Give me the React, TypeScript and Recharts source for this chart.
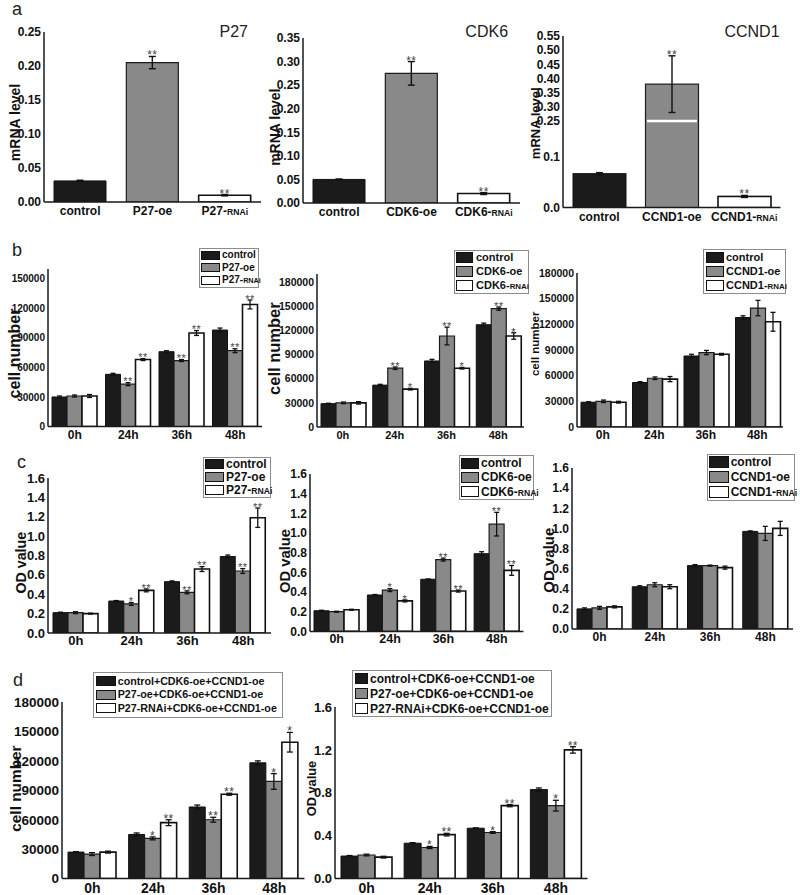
import React from 'react';
import { BarChart, Bar, XAxis, YAxis, ErrorBar, LabelList, Legend, Cell } from 'recharts';

// ---------- panel a: mRNA level ----------
const p27Groups = ['control', 'P27-oe', 'P27-RNAi'];
const p27Mrna = [0.031, 0.205, 0.010];
const p27MrnaErr = [0.001, 0.009, 0.001];
const p27MrnaStars = ['', '**', '**'];
const p27MrnaTicks = [0, 0.05, 0.1, 0.15, 0.2, 0.25];
const p27MrnaTickLabels = ['0.00', '0.05', '0.10', '0.15', '0.20', '0.25'];

const cdk6Groups = ['control', 'CDK6-oe', 'CDK6-RNAi'];
const cdk6Mrna = [0.050, 0.275, 0.020];
const cdk6MrnaErr = [0.001, 0.025, 0.002];
const cdk6MrnaStars = ['', '**', '**'];
const cdk6MrnaTicks = [0, 0.05, 0.1, 0.15, 0.2, 0.25, 0.3, 0.35];
const cdk6MrnaTickLabels = ['0.00', '0.05', '0.10', '0.15', '0.20', '0.25', '0.30', '0.35'];

const ccnd1Groups = ['control', 'CCND1-oe', 'CCND1-RNAi'];
const ccnd1Mrna = [0.067, 0.38, 0.022];
const ccnd1MrnaErr = [0.002, 0.1, 0.002];
const ccnd1MrnaStars = ['', '**', '**'];
const ccnd1MrnaTicks = [0, 0.1, 0.25, 0.3, 0.35, 0.4, 0.45, 0.5, 0.55];
const ccnd1MrnaTickLabels = ['0.0', '0.1', '0.25', '0.30', '0.35', '0.40', '0.45', '0.50', '0.55'];

// ---------- panels b-d: time course ----------
const times = ['0h', '24h', '36h', '48h'];

const p27CellCtrl = [30000, 53000, 76000, 98000];
const p27CellCtrlErr = [1000, 1000, 1000, 2000];
const p27CellOe = [31000, 43000, 67000, 77000];
const p27CellOeErr = [1000, 1500, 1000, 2000];
const p27CellRnai = [31000, 68000, 95000, 124000];
const p27CellRnaiErr = [1500, 1000, 2500, 4500];
const p27CellOeStars = ['', '**', '**', '**'];
const p27CellRnaiStars = ['', '**', '**', '**'];

const cdk6CellCtrl = [29000, 52000, 82000, 127000];
const cdk6CellCtrlErr = [500, 1000, 2000, 2000];
const cdk6CellOe = [30000, 73000, 113000, 147000];
const cdk6CellOeErr = [1000, 1500, 11000, 2000];
const cdk6CellRnai = [30000, 47000, 73000, 113000];
const cdk6CellRnaiErr = [1500, 1000, 1000, 4000];
const cdk6CellOeStars = ['', '**', '**', '**'];
const cdk6CellRnaiStars = ['', '*', '*', '*'];

const ccnd1CellCtrl = [29000, 52000, 83000, 128000];
const ccnd1CellCtrlErr = [500, 1000, 2000, 2000];
const ccnd1CellOe = [30000, 57000, 87000, 139000];
const ccnd1CellOeErr = [1500, 1500, 2500, 9000];
const ccnd1CellRnai = [29000, 56000, 85000, 123000];
const ccnd1CellRnaiErr = [1000, 3000, 1000, 11000];

const p27OdCtrl = [0.21, 0.33, 0.53, 0.79];
const p27OdCtrlErr = [0.005, 0.005, 0.008, 0.015];
const p27OdOe = [0.21, 0.30, 0.42, 0.64];
const p27OdOeErr = [0.01, 0.015, 0.015, 0.025];
const p27OdRnai = [0.20, 0.44, 0.66, 1.19];
const p27OdRnaiErr = [0.005, 0.015, 0.025, 0.1];
const p27OdOeStars = ['', '*', '**', '**'];
const p27OdRnaiStars = ['', '**', '**', '**'];

const cdk6OdCtrl = [0.21, 0.37, 0.53, 0.79];
const cdk6OdCtrlErr = [0.005, 0.005, 0.003, 0.02];
const cdk6OdOe = [0.20, 0.42, 0.73, 1.09];
const cdk6OdOeErr = [0.005, 0.015, 0.015, 0.12];
const cdk6OdRnai = [0.22, 0.31, 0.41, 0.62];
const cdk6OdRnaiErr = [0.005, 0.01, 0.01, 0.05];
const cdk6OdOeStars = ['', '*', '**', '**'];
const cdk6OdRnaiStars = ['', '*', '**', '**'];

const ccnd1OdCtrl = [0.20, 0.42, 0.63, 0.97];
const ccnd1OdCtrlErr = [0.01, 0.01, 0.01, 0.005];
const ccnd1OdOe = [0.21, 0.44, 0.63, 0.95];
const ccnd1OdOeErr = [0.015, 0.02, 0.005, 0.07];
const ccnd1OdRnai = [0.22, 0.42, 0.61, 1.00];
const ccnd1OdRnaiErr = [0.01, 0.02, 0.015, 0.07];

const comboCellCtrl = [27000, 45000, 73000, 118000];
const comboCellCtrlErr = [500, 1500, 2000, 2000];
const comboCellOe = [25000, 41000, 60000, 99000];
const comboCellOeErr = [1500, 1500, 2500, 8000];
const comboCellRnai = [27000, 57000, 86000, 139000];
const comboCellRnaiErr = [1000, 3000, 1000, 10000];
const comboCellOeStars = ['', '*', '**', '*'];
const comboCellRnaiStars = ['', '**', '**', '*'];

const comboOdCtrl = [0.21, 0.33, 0.47, 0.83];
const comboOdCtrlErr = [0.005, 0.005, 0.003, 0.015];
const comboOdOe = [0.22, 0.29, 0.43, 0.68];
const comboOdOeErr = [0.008, 0.01, 0.008, 0.05];
const comboOdRnai = [0.20, 0.41, 0.68, 1.20];
const comboOdRnaiErr = [0.008, 0.012, 0.01, 0.03];
const comboOdOeStars = ['', '*', '*', '*'];
const comboOdRnaiStars = ['', '**', '**', '**'];

const cellTicks150 = [0, 30000, 60000, 90000, 120000, 150000];
const cellTicks180 = [0, 30000, 60000, 90000, 120000, 150000, 180000];
const odTicks = [0, 0.2, 0.4, 0.6, 0.8, 1.0, 1.2, 1.4, 1.6];
const odTicksWide = [0, 0.4, 0.8, 1.2, 1.6];

const noStars = ['', '', '', ''];

// ---------- styling ----------
const FONT = '"Liberation Sans", Arial, Helvetica, sans-serif';
const FILLS = ['#1b1b1b', '#898989', '#ffffff'];
const STROKES = ['#111111', '#1c1c1c', '#111111'];
const STROKE_W = [1, 1.2, 1.6];
const AXIS_LINE = { stroke: '#1a1a1a', strokeWidth: 1.5 };
const AXW = 62;
const TOPM = 24;
const RM = 30;
const BOTM = 26;

type Rect = { x: number; y: number; w: number; h: number };

function boxOf(plot: Rect) {
  return { left: plot.x - AXW, top: plot.y - TOPM, width: plot.w + AXW + RM, height: plot.h + TOPM + BOTM };
}

function nameNode(name: string, smallRnai: boolean, fs: number) {
  const i = smallRnai ? name.indexOf('RNAi') : -1;
  if (i < 0) return name;
  return (
    <>
      {name.slice(0, i)}
      <tspan fontSize={fs * 0.72}>RNAi</tspan>
    </>
  );
}

function htmlName(name: string, smallRnai: boolean, fs: number) {
  const i = smallRnai ? name.indexOf('RNAi') : -1;
  if (i < 0) return name;
  return (
    <>
      {name.slice(0, i)}
      <span style={{ fontSize: fs * 0.72 }}>RNAi</span>
    </>
  );
}

function XTick(props: any) {
  const { x, y, payload, fs, dy, smallRnai } = props;
  return (
    <text x={x} y={y + dy} textAnchor="middle" fontSize={fs} fontWeight="bold" fill="#111">
      {nameNode(String(payload.value), !!smallRnai, fs)}
    </text>
  );
}

function yTitle(text: string, px: number, py: number, box: { left: number; top: number }, fs: number) {
  const x = px - box.left;
  const y = py - box.top;
  return {
    content: () => (
      <text
        x={x}
        y={y}
        transform={`rotate(-90 ${x} ${y})`}
        textAnchor="middle"
        dominantBaseline="central"
        fontSize={fs}
        fontWeight="bold"
        fill="#111"
      >
        {text}
      </text>
    ),
  };
}

// stars sit just above the top of the error bar
function starContent(rows: any[], vKey: string, eKey: string, sKey: string, fs: number) {
  return (props: any) => {
    const vb = props.viewBox && typeof props.viewBox.x === 'number' ? props.viewBox : props;
    const row = rows[props.index];
    if (!row || !row[sKey]) return null;
    const v = row[vKey];
    const e = row[eKey];
    const eh = Array.isArray(e) ? e[1] : e;
    const h = Math.abs(vb.height);
    const top = Math.min(vb.y, vb.y + vb.height);
    const errPx = v > 0 ? (h / v) * eh : 0;
    return (
      <text
        x={vb.x + vb.width / 2}
        y={top - errPx + fs * 0.25}
        textAnchor="middle"
        fontSize={fs}
        fill="#444"
        letterSpacing={0.5}
      >
        {row[sKey]}
      </text>
    );
  };
}

// ---------- panel a ----------
type MrnaCfg = {
  groups: string[];
  values: number[];
  errors: number[];
  stars: string[];
  ticks: number[];
  tickLabels: string[];
  toAxis: (v: number) => number;
  axisMax: number;
  breakAt?: number;
  plot: Rect;
  title: string;
  titleX: number;
  yTitleX: number;
  yTitleY: number;
  yTitleFs: number;
};

const identity = (v: number) => v;

// broken y axis of the CCND1 plot: three linear segments
const ccnd1SegValues = [0, 0.1, 0.25, 0.55];
const ccnd1SegUnits = [0, 50.7, 86.7, 171.7];
function ccnd1Axis(v: number) {
  if (v <= 0) return 0;
  for (let i = 1; i < ccnd1SegValues.length; i++) {
    if (v <= ccnd1SegValues[i] || i === ccnd1SegValues.length - 1) {
      const t = (v - ccnd1SegValues[i - 1]) / (ccnd1SegValues[i] - ccnd1SegValues[i - 1]);
      return ccnd1SegUnits[i - 1] + t * (ccnd1SegUnits[i] - ccnd1SegUnits[i - 1]);
    }
  }
  return v;
}

function MrnaPanel({ c }: { c: MrnaCfg }) {
  const box = boxOf(c.plot);
  const rows = c.groups.map((g, i) => {
    const u = c.toAxis(c.values[i]);
    return {
      name: g,
      v: u,
      e: [u - c.toAxis(c.values[i] - c.errors[i]), c.toAxis(c.values[i] + c.errors[i]) - u],
      s: c.stars[i],
    };
  });
  const axisTicks = c.ticks.map(c.toAxis);
  const breakU = c.breakAt !== undefined ? c.toAxis(c.breakAt) : null;
  const fmt = (u: number) => {
    const i = axisTicks.findIndex((t) => Math.abs(t - u) < 1e-6);
    return i >= 0 ? c.tickLabels[i] : '';
  };
  const brokenShape = (p: any) => {
    const idx = typeof p.index === 'number' ? p.index : rows.findIndex((r) => r.name === p.payload?.name);
    const r = rows[idx];
    const yb = p.y + p.height * (1 - (breakU as number) / r.v);
    return (
      <g>
        <rect x={p.x} y={p.y} width={p.width} height={p.height} fill={FILLS[idx]} stroke={STROKES[idx]} strokeWidth={STROKE_W[idx]} />
        {breakU !== null && r.v > breakU ? (
          <line x1={p.x + 1.5} x2={p.x + p.width - 1.5} y1={yb} y2={yb} stroke="#ffffff" strokeWidth={2.5} />
        ) : null}
      </g>
    );
  };
  return (
    <>
      <div style={{ position: 'absolute', left: box.left, top: box.top }}>
        <BarChart width={box.width} height={box.height} data={rows} margin={{ top: TOPM, right: RM, bottom: 0, left: 0 }} barCategoryGap={10}>
          <XAxis
            dataKey="name"
            height={BOTM}
            interval={0}
            tickLine={false}
            tickSize={0}
            tickMargin={0}
            axisLine={AXIS_LINE}
            tick={(p: any) => <XTick {...p} fs={12} dy={13} smallRnai />}
          />
          <YAxis
            width={AXW}
            type="number"
            domain={[0, c.axisMax]}
            allowDataOverflow
            ticks={axisTicks}
            interval={0}
            tickFormatter={fmt}
            tickLine={false}
            tickSize={0}
            tickMargin={3}
            axisLine={AXIS_LINE}
            tick={{ fontSize: 12, fontWeight: 'bold', fill: '#111' }}
            label={yTitle('mRNA level', c.yTitleX, c.yTitleY, box, c.yTitleFs)}
          />
          <Bar dataKey="v" isAnimationActive={false} shape={breakU !== null ? brokenShape : undefined}>
            {rows.map((r, i) => (
              <Cell key={r.name} fill={FILLS[i]} stroke={STROKES[i]} strokeWidth={STROKE_W[i]} />
            ))}
            <ErrorBar dataKey="e" width={3.5} strokeWidth={1.4} stroke="#111" />
            <LabelList dataKey="s" content={starContent(rows, 'v', 'e', 's', 12)} />
          </Bar>
        </BarChart>
      </div>
      <div
        style={{
          position: 'absolute',
          left: c.titleX - 60,
          top: 37.5 - 16 * 0.85,
          width: 120,
          textAlign: 'center',
          fontSize: 16,
          lineHeight: 1,
          color: '#222',
        }}
      >
        {c.title}
      </div>
    </>
  );
}

// ---------- panels b-d ----------
type Series = { name: string; values: number[]; errors: number[]; stars: string[] };
type LegendCfg = {
  x: number;
  y: number;
  w: number;
  pitch: number;
  swW: number;
  swH: number;
  fs: number;
  padTop: number;
  padLeft: number;
  gap: number;
  smallRnai: boolean;
};
type TimeCfg = {
  series: Series[];
  axisMax: number;
  ticks: number[];
  fmt: (v: number) => string;
  plot: Rect;
  gap: number;
  yTitle: string;
  yTitleX: number;
  yTitleY: number;
  yTitleFs: number;
  yTickFs: number;
  xTickFs: number;
  xTickDy: number;
  starFs: number;
  capW: number;
  legend: LegendCfg;
};

function LegendBox({ series, lg }: { series: Series[]; lg: LegendCfg }) {
  return (
    <div
      style={{
        width: lg.w,
        boxSizing: 'border-box',
        border: '1px solid #8c8c8c',
        background: '#fff',
        padding: `${lg.padTop}px 2px ${lg.padTop}px ${lg.padLeft}px`,
        fontFamily: FONT,
      }}
    >
      {series.map((s, i) => (
        <div key={s.name} style={{ display: 'flex', alignItems: 'center', height: lg.pitch }}>
          <span
            style={{
              display: 'inline-block',
              flex: 'none',
              width: lg.swW,
              height: lg.swH,
              boxSizing: 'border-box',
              background: FILLS[i],
              border: `${i === 2 ? 1.5 : 1}px solid #111`,
              marginRight: lg.gap,
            }}
          />
          <span style={{ fontSize: lg.fs, fontWeight: 'bold', lineHeight: 1, whiteSpace: 'nowrap', color: '#111' }}>
            {htmlName(s.name, lg.smallRnai, lg.fs)}
          </span>
        </div>
      ))}
    </div>
  );
}

function TimePanel({ c }: { c: TimeCfg }) {
  const box = boxOf(c.plot);
  const rows = times.map((t, i) => {
    const r: any = { time: t };
    c.series.forEach((s, k) => {
      r['v' + k] = s.values[i];
      r['e' + k] = s.errors[i];
      r['s' + k] = s.stars[i];
    });
    return r;
  });
  const lg = c.legend;
  return (
    <div style={{ position: 'absolute', left: box.left, top: box.top }}>
      <BarChart
        width={box.width}
        height={box.height}
        data={rows}
        margin={{ top: TOPM, right: RM, bottom: 0, left: 0 }}
        barGap={0}
        barCategoryGap={c.gap}
      >
        <XAxis
          dataKey="time"
          height={BOTM}
          interval={0}
          tickLine={false}
          tickSize={0}
          tickMargin={0}
          axisLine={AXIS_LINE}
          tick={(p: any) => <XTick {...p} fs={c.xTickFs} dy={c.xTickDy} />}
        />
        <YAxis
          width={AXW}
          type="number"
          domain={[0, c.axisMax]}
          allowDataOverflow
          ticks={c.ticks}
          interval={0}
          tickFormatter={c.fmt}
          tickLine={false}
          tickSize={0}
          tickMargin={3}
          axisLine={AXIS_LINE}
          tick={{ fontSize: c.yTickFs, fontWeight: 'bold', fill: '#111' }}
          label={yTitle(c.yTitle, c.yTitleX, c.yTitleY, box, c.yTitleFs)}
        />
        {c.series.map((s, k) => (
          <Bar
            key={s.name}
            dataKey={'v' + k}
            name={s.name}
            fill={FILLS[k]}
            stroke={STROKES[k]}
            strokeWidth={STROKE_W[k]}
            isAnimationActive={false}
          >
            <ErrorBar dataKey={'e' + k} width={c.capW} strokeWidth={1.3} stroke="#111" />
            <LabelList dataKey={'s' + k} content={starContent(rows, 'v' + k, 'e' + k, 's' + k, c.starFs)} />
          </Bar>
        ))}
        <Legend
          layout="vertical"
          align="center"
          verticalAlign="middle"
          wrapperStyle={{ left: lg.x - box.left, top: lg.y - box.top, width: lg.w }}
          content={() => <LegendBox series={c.series} lg={lg} />}
        />
      </BarChart>
    </div>
  );
}

const fmtInt = (v: number) => String(Math.round(v));
const fmtOd = (v: number) => v.toFixed(1);

const mrnaPanels: MrnaCfg[] = [
  {
    groups: p27Groups, values: p27Mrna, errors: p27MrnaErr, stars: p27MrnaStars,
    ticks: p27MrnaTicks, tickLabels: p27MrnaTickLabels, toAxis: identity, axisMax: 0.25,
    plot: { x: 44, y: 32, w: 217, h: 170 }, title: 'P27', titleX: 233.7,
    yTitleX: 15, yTitleY: 122.5, yTitleFs: 14,
  },
  {
    groups: cdk6Groups, values: cdk6Mrna, errors: cdk6MrnaErr, stars: cdk6MrnaStars,
    ticks: cdk6MrnaTicks, tickLabels: cdk6MrnaTickLabels, toAxis: identity, axisMax: 0.35,
    plot: { x: 303, y: 38.3, w: 217, h: 165 }, title: 'CDK6', titleX: 486.7,
    yTitleX: 275, yTitleY: 127.5, yTitleFs: 14,
  },
  {
    groups: ccnd1Groups, values: ccnd1Mrna, errors: ccnd1MrnaErr, stars: ccnd1MrnaStars,
    ticks: ccnd1MrnaTicks, tickLabels: ccnd1MrnaTickLabels, toAxis: ccnd1Axis, axisMax: 171.7, breakAt: 0.25,
    plot: { x: 562.5, y: 35.7, w: 217.5, h: 171.6 }, title: 'CCND1', titleX: 752,
    yTitleX: 535, yTitleY: 123, yTitleFs: 13,
  },
];

const trio = (names: string[], v: number[][], e: number[][], s: string[][]): Series[] =>
  names.map((n, i) => ({ name: n, values: v[i], errors: e[i], stars: s[i] }));

const timePanels: TimeCfg[] = [
  {
    series: trio(['control', 'P27-oe', 'P27-RNAi'], [p27CellCtrl, p27CellOe, p27CellRnai],
      [p27CellCtrlErr, p27CellOeErr, p27CellRnaiErr], [noStars, p27CellOeStars, p27CellRnaiStars]),
    axisMax: 160000, ticks: cellTicks150, fmt: fmtInt, plot: { x: 48, y: 268.5, w: 214, h: 157.5 }, gap: 4,
    yTitle: 'cell number', yTitleX: 14, yTitleY: 353, yTitleFs: 16, yTickFs: 10, xTickFs: 12, xTickDy: 12, starFs: 11, capW: 2.5,
    legend: { x: 199, y: 248, w: 60, pitch: 12.5, swW: 19, swH: 9, fs: 10, padTop: 0, padLeft: 1, gap: 2, smallRnai: true },
  },
  {
    series: trio(['control', 'CDK6-oe', 'CDK6-RNAi'], [cdk6CellCtrl, cdk6CellOe, cdk6CellRnai],
      [cdk6CellCtrlErr, cdk6CellOeErr, cdk6CellRnaiErr], [noStars, cdk6CellOeStars, cdk6CellRnaiStars]),
    axisMax: 190000, ticks: cellTicks180, fmt: fmtInt, plot: { x: 316.5, y: 273.7, w: 207, h: 153 }, gap: 4,
    yTitle: 'cell number', yTitleX: 273.3, yTitleY: 348.3, yTitleFs: 16.5, yTickFs: 10.5, xTickFs: 11, xTickDy: 11.5, starFs: 11, capW: 2.5,
    legend: { x: 454, y: 250, w: 75, pitch: 14, swW: 17, swH: 11, fs: 11, padTop: 0, padLeft: 1, gap: 3, smallRnai: true },
  },
  {
    series: trio(['control', 'CCND1-oe', 'CCND1-RNAi'], [ccnd1CellCtrl, ccnd1CellOe, ccnd1CellRnai],
      [ccnd1CellCtrlErr, ccnd1CellOeErr, ccnd1CellRnaiErr], [noStars, noStars, noStars]),
    axisMax: 180000, ticks: cellTicks180, fmt: fmtInt, plot: { x: 577, y: 272.7, w: 206, h: 154 }, gap: 4,
    yTitle: 'cell number', yTitleX: 535, yTitleY: 343.5, yTitleFs: 11.5, yTickFs: 10.5, xTickFs: 12, xTickDy: 12, starFs: 11, capW: 2.5,
    legend: { x: 703, y: 249, w: 83, pitch: 14.3, swW: 18, swH: 11, fs: 11, padTop: 0, padLeft: 2, gap: 2, smallRnai: true },
  },
  {
    series: trio(['control', 'P27-oe', 'P27-RNAi'], [p27OdCtrl, p27OdOe, p27OdRnai],
      [p27OdCtrlErr, p27OdOeErr, p27OdRnaiErr], [noStars, p27OdOeStars, p27OdRnaiStars]),
    axisMax: 1.6, ticks: odTicks, fmt: fmtOd, plot: { x: 48, y: 478.3, w: 223, h: 155 }, gap: 5,
    yTitle: 'OD value', yTitleX: 20.7, yTitleY: 563, yTitleFs: 14.2, yTickFs: 13, xTickFs: 13, xTickDy: 12, starFs: 11, capW: 2.5,
    legend: { x: 203, y: 457, w: 68, pitch: 13, swW: 19, swH: 10, fs: 12, padTop: 0, padLeft: 1, gap: 2, smallRnai: true },
  },
  {
    series: trio(['control', 'CDK6-oe', 'CDK6-RNAi'], [cdk6OdCtrl, cdk6OdOe, cdk6OdRnai],
      [cdk6OdCtrlErr, cdk6OdOeErr, cdk6OdRnaiErr], [noStars, cdk6OdOeStars, cdk6OdRnaiStars]),
    axisMax: 1.6, ticks: odTicks, fmt: fmtOd, plot: { x: 309.5, y: 474.3, w: 213.5, h: 157.4 }, gap: 4,
    yTitle: 'OD value', yTitleX: 285, yTitleY: 561.3, yTitleFs: 14.8, yTickFs: 12, xTickFs: 12.5, xTickDy: 12, starFs: 11, capW: 2.5,
    legend: { x: 459, y: 455, w: 75, pitch: 14.3, swW: 18, swH: 11, fs: 12, padTop: 0, padLeft: 1, gap: 2, smallRnai: true },
  },
  {
    series: trio(['control', 'CCND1-oe', 'CCND1-RNAi'], [ccnd1OdCtrl, ccnd1OdOe, ccnd1OdRnai],
      [ccnd1OdCtrlErr, ccnd1OdOeErr, ccnd1OdRnaiErr], [noStars, noStars, noStars]),
    axisMax: 1.6, ticks: odTicks, fmt: fmtOd, plot: { x: 572, y: 468.3, w: 221, h: 161 }, gap: 5,
    yTitle: 'OD value', yTitleX: 548.3, yTitleY: 560.5, yTitleFs: 15, yTickFs: 12, xTickFs: 12, xTickDy: 12, starFs: 11, capW: 2.5,
    legend: { x: 706.7, y: 454, w: 88, pitch: 15, swW: 20, swH: 12, fs: 12, padTop: 0, padLeft: 1, gap: 2, smallRnai: true },
  },
  {
    series: trio(['control+CDK6-oe+CCND1-oe', 'P27-oe+CDK6-oe+CCND1-oe', 'P27-RNAi+CDK6-oe+CCND1-oe'],
      [comboCellCtrl, comboCellOe, comboCellRnai], [comboCellCtrlErr, comboCellOeErr, comboCellRnaiErr],
      [noStars, comboCellOeStars, comboCellRnaiStars]),
    axisMax: 180000, ticks: cellTicks180, fmt: fmtInt, plot: { x: 61.5, y: 701.7, w: 242.5, h: 176.6 }, gap: 6,
    yTitle: 'cell number', yTitleX: 15, yTitleY: 788.3, yTitleFs: 15.4, yTickFs: 13.5, xTickFs: 14, xTickDy: 14, starFs: 12, capW: 3,
    legend: { x: 92.7, y: 671.7, w: 190, pitch: 13.3, swW: 20, swH: 10, fs: 10.7, padTop: 2, padLeft: 2, gap: 2, smallRnai: false },
  },
  {
    series: trio(['control+CDK6-oe+CCND1-oe', 'P27-oe+CDK6-oe+CCND1-oe', 'P27-RNAi+CDK6-oe+CCND1-oe'],
      [comboOdCtrl, comboOdOe, comboOdRnai], [comboOdCtrlErr, comboOdOeErr, comboOdRnaiErr],
      [noStars, comboOdOeStars, comboOdRnaiStars]),
    axisMax: 1.6, ticks: odTicksWide, fmt: fmtOd, plot: { x: 335, y: 706.7, w: 252.5, h: 171.6 }, gap: 6,
    yTitle: 'OD value', yTitleX: 311.7, yTitleY: 788.3, yTitleFs: 12.8, yTickFs: 13, xTickFs: 14, xTickDy: 14, starFs: 12, capW: 3,
    legend: { x: 352, y: 670, w: 200, pitch: 15, swW: 13, swH: 11, fs: 12, padTop: 0, padLeft: 2, gap: 2, smallRnai: false },
  },
];

const panelLetters = [
  { t: 'a', x: 12, base: 15 },
  { t: 'b', x: 12, base: 256.7 },
  { t: 'c', x: 17, base: 468.3 },
  { t: 'd', x: 13, base: 686 },
];

export default function App() {
  return (
    <div
      style={{
        position: 'absolute',
        left: 0,
        top: 0,
        width: 800,
        height: 895,
        background: '#ffffff',
        fontFamily: FONT,
        overflow: 'hidden',
      }}
    >
      {mrnaPanels.map((c) => (
        <MrnaPanel key={c.title} c={c} />
      ))}
      {timePanels.map((c, i) => (
        <TimePanel key={i} c={c} />
      ))}
      {panelLetters.map((l) => (
        <div
          key={l.t}
          style={{ position: 'absolute', left: l.x, top: l.base - 18 * 0.85, fontSize: 18, lineHeight: 1, color: '#222' }}
        >
          {l.t}
        </div>
      ))}
    </div>
  );
}
